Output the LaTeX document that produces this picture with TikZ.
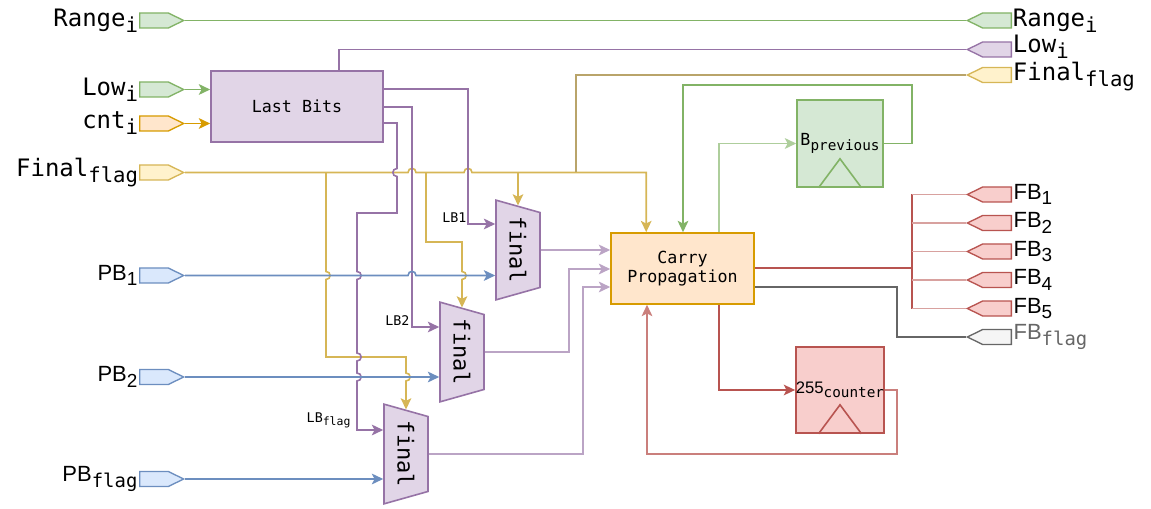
\documentclass[tikz,border=0pt]{standalone}
\usepackage{fontspec}
\usepackage{graphicx}
\setmainfont{Liberation Sans}
\setsansfont{Liberation Sans}
\setmonofont{DejaVu Sans Mono}
\usetikzlibrary{arrows.meta,positioning,calc,shapes.geometric,shapes.symbols}
\definecolor{gline}{HTML}{82B366}
\definecolor{gfill}{HTML}{D5E8D4}
\definecolor{pline}{HTML}{9673A6}
\definecolor{pfill}{HTML}{E1D5E7}
\definecolor{yline}{HTML}{D6B656}
\definecolor{ydark}{HTML}{B9A46A}
\definecolor{yfill}{HTML}{FFF2CC}
\definecolor{oline}{HTML}{D79B00}
\definecolor{ofill}{HTML}{FFE6CC}
\definecolor{bline}{HTML}{6C8EBF}
\definecolor{bfill}{HTML}{DAE8FC}
\definecolor{rline}{HTML}{B85450}
\definecolor{rfill}{HTML}{F8CECC}
\definecolor{kline}{HTML}{666666}
\definecolor{kfill}{HTML}{F5F5F5}
\colorlet{plight}{pline!65}
\colorlet{glight}{gline!65}
\colorlet{rlight}{rline!55}
\colorlet{rmid}{rline!75}

% subscript as draw.io sets it
\newcommand{\sbs}[1]{\raisebox{-0.25em}{\scalebox{0.86}{#1}}}
% line jumps: horizontal wire hops up, vertical wire hops sideways
\newcommand{\hoph}[2]{-- ({#1-4},#2) .. controls ({#1-4},{#2-5.5}) and ({#1+4},{#2-5.5}) .. ({#1+4},#2)}
\newcommand{\hopv}[3]{-- (#1,{#2-4}) .. controls ({#1+(#3)},{#2-4}) and ({#1+(#3)},{#2+4}) .. (#1,{#2+4})}

\begin{document}
\begin{tikzpicture}[x=0.75pt, y=-0.75pt,
    port/.style={signal, draw, line width=1pt, inner sep=0pt,
                 minimum width=33pt, minimum height=11.25pt, signal pointer angle=52},
    inport/.style={port, signal to=east, anchor=west, draw=#1line, fill=#1fill},
    outport/.style={port, signal to=west, anchor=east, draw=#1line, fill=#1fill},
    box/.style={draw=#1line, fill=#1fill, line width=1.2pt, inner sep=0pt,
                font=\fontsize{12.5}{14}\ttfamily, align=center},
    mux/.style={trapezium, draw=pline, fill=pfill, line width=1.2pt, rotate=-90,
                trapezium left angle=57.5, trapezium right angle=57.5,
                trapezium stretches=true, minimum width=75pt, minimum height=33pt,
                inner sep=0pt, font=\fontsize{16.5}{18}\ttfamily},
    lbl/.style={font=\fontsize{18}{20}\ttfamily, inner sep=0.5pt},
    slbl/.style={font=\fontsize{16.5}{20}\sffamily, inner sep=1pt},
    tag/.style={font=\fontsize{10}{12}\ttfamily, inner sep=1pt},
    wire/.style={line width=1.2pt, draw=#1},
    arr/.style={wire=#1, -{Stealth[length=8.5pt, width=8pt, inset=2pt]}}]

    \useasboundingbox (0,0) rectangle (1151,509);

    % ── ports ────────────────────────────────────────────────
    \node[inport=g, label={[lbl]left:{Range\sbs{i}}}] (rngL) at (139,20.5) {};
    \node[inport=g, label={[lbl]left:{Low\sbs{i}}}] (lowL) at (139,89.5) {};
    \node[inport=o, label={[lbl]left:{cnt\sbs{i}}}] (cntL) at (139,123.5) {};
    \node[inport=y, label={[lbl]left:{Final\sbs{flag}}}] (finL) at (139,172.5) {};
    \node[inport=b, label={[slbl]left:{PB\sbs{1}}}] (pb1) at (139,275.5) {};
    \node[inport=b, label={[slbl]left:{PB\sbs{2}}}] (pb2) at (139,377) {};
    \node[inport=b, label={[slbl]left:{PB\sbs{\ttfamily flag}}}] (pbf) at (139,479) {};

    \node[outport=g, label={[lbl]right:{Range\sbs{i}}}] (rngR) at (1012,20.5) {};
    \node[outport=p, label={[lbl, yshift=2pt]right:{Low\sbs{i}}}] (lowR) at (1012,49.5) {};
    \node[outport=y, label={[lbl, yshift=-1pt]right:{Final\sbs{flag}}}] (finR) at (1012,75) {};
    \foreach \i/\y in {1/194.5,2/223,3/251.5,4/280,5/308.5}
      \node[outport=r, label={[slbl]right:{FB\sbs{\i}}}] (fb\i) at (1012,\y) {};
    \node[outport=k, label={[slbl,text=kline]right:{FB\sbs{\ttfamily flag}}}] (fbf) at (1012,337) {};

    % ── blocks ───────────────────────────────────────────────
    \node[box=p, minimum width=129pt, minimum height=53.25pt] (lb) at (297,106.5) {Last Bits};
    \node[box=o, minimum width=107.25pt, minimum height=53.25pt] (cp) at (682.5,268.5) {Carry\\Propagation};
    \node[box=g, minimum width=64.5pt, minimum height=65.25pt] (bp) at (840,143.5) {B\sbs{previous}};
    \node[box=r, minimum width=64.5pt, minimum height=64.5pt] (ctr) at (840,390) {{\sffamily 255}\sbs{counter}};
    \draw[gline, line width=1.2pt] ($(bp.south)+(-21.5,0)$) -- ($(bp.south)+(0,-29)$) -- ($(bp.south)+(21.5,0)$);
    \draw[rline, line width=1.2pt] ($(ctr.south)+(-21.5,0)$) -- ($(ctr.south)+(0,-29)$) -- ($(ctr.south)+(21.5,0)$);

    \node[mux] (mx1) at (518,250) {final};
    \node[mux] (mx2) at (462,352) {final};
    \node[mux] (mx3) at (406,454) {final};

    % ── pass-through and Last Bits inputs ────────────────────
    \draw[wire=gline] (rngL) -- (rngR);
    \draw[arr=gline] (lowL) -- (lowL -| lb.west);
    \draw[arr=oline] (cntL) -- (cntL -| lb.west);
    \draw[wire=pline] ($(lb.north west)+(129,0)$) |- (lowR);

    % ── final flag ───────────────────────────────────────────
    \draw[arr=yline] (finL) \hoph{412}{172.5} \hoph{468}{172.5} -| ($(cp.north west)+(36,0)$);
    \draw[wire=ydark] (finL -| 576,0) |- (finR);
    \draw[arr=yline] (finL -| mx1.left side) -- (mx1.left side);
    \draw[arr=yline] (finL -| 426,0) -- (426,242) -- (462,242) \hopv{462}{275.5}{5.5} -- (mx2.left side);
    \draw[arr=yline] (finL -| 326,0) \hopv{326}{275.5}{5.5} -- (326,357) -- (406,357)
      \hopv{406}{377}{5.5} -- (mx3.left side);

    % ── last bits to the muxes ───────────────────────────────
    \draw[arr=pline] (lb.east |- 0,89) -- (468,89) -- (468,224) -- (mx1.south |- 0,224);
    \draw[arr=pline] (lb.east |- 0,107) -- (412,107) -- (412,327) -- (mx2.south |- 0,327);
    \draw[arr=pline] (lb.east |- 0,123) -- (397,123) \hopv{397}{172.5}{-5.5} -- (397,213) -- (357,213)
      \hopv{357}{275.5}{5.5} \hopv{357}{357}{5.5} \hopv{357}{377}{5.5} -- (357,430) -- (mx3.south |- 0,430);
    \node[tag, anchor=south east] (t1) at (468,224) {LB1};
    \node[tag, anchor=south east] (t2) at (411,327) {LB2};
    \node[tag, anchor=south east] (t3) at (352,430) {LB\sbs{flag}};

    % ── PB inputs ────────────────────────────────────────────
    \draw[arr=bline] (pb1) \hoph{412}{275.5} -- (mx1.south |- pb1);
    \draw[arr=bline] (pb2) -- (mx2.south |- pb2);
    \draw[arr=bline] (pbf) -- (mx3.south |- pbf);

    % ── mux outputs ──────────────────────────────────────────
    \draw[arr=plight] (mx1.north) -- (mx1.north -| cp.west);
    \draw[arr=plight] (mx2.north) -| (569,269) -- (cp.west |- 0,269);
    \draw[arr=plight] (mx3.north) -| (583,287) -- (cp.west |- 0,287);

    % ── B previous loop ──────────────────────────────────────
    \draw[arr=glight] (cp.north -| 719,0) |- (bp);
    \draw[arr=gline] (bp) -| (912,85) -| (cp.north -| 683,0);

    % ── outputs ──────────────────────────────────────────────
    \draw[wire=rline, line width=2pt] (cp.east |- 0,268) -- (912,268);
    \draw[wire=rline] (fb1 -| 912,0) -- (fb5 -| 912,0);
    \foreach \i in {1,...,5}
      \draw[wire=rlight] (fb\i -| 912,0) -- (fb\i);
    \draw[wire=kline] (cp.east |- 0,287) -| (897,337) -- (fbf);

    % ── 255 counter loop ─────────────────────────────────────
    \draw[arr=rline] (cp.south -| 719,0) |- (ctr);
    \draw[arr=rmid] (ctr) -| (897,454) -| (cp.south -| 647,0);

\end{tikzpicture}
\end{document}
